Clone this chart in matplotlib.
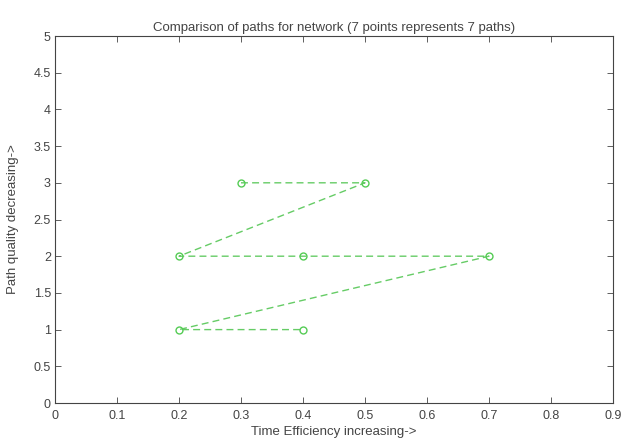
import matplotlib
matplotlib.use("Agg")
import matplotlib.pyplot as plt

x_vals = [0.3, 0.5, 0.2, 0.4, 0.7, 0.2, 0.4]
y_vals = [3, 3, 2, 2, 2, 1, 1]
x_ticks = [0, 0.1, 0.2, 0.3, 0.4, 0.5, 0.6, 0.7, 0.8, 0.9]
x_labels = ["0", "0.1", "0.2", "0.3", "0.4", "0.5", "0.6", "0.7", "0.8", "0.9"]
y_ticks = [0, 0.5, 1, 1.5, 2, 2.5, 3, 3.5, 4, 4.5, 5]
y_labels = ["0", "0.5", "1", "1.5", "2", "2.5", "3", "3.5", "4", "4.5", "5"]

plt.rcParams['font.family'] = ['Liberation Sans', 'DejaVu Sans']
fig = plt.figure(figsize=(6.22, 4.41), dpi=100)
ax = fig.add_axes([55/622, 38/441, (613-55)/622, (403-36)/441])
ax.plot(x_vals, y_vals, linestyle=(0, (5, 3)), color='#66cc66', linewidth=1.0,
        marker='o', markersize=5, markerfacecolor='none', markeredgecolor='#55cc55', markeredgewidth=1.0)
ax.set_xlim(0, 0.9)
ax.set_ylim(0, 5)
ax.set_xticks(x_ticks)
ax.set_xticklabels(x_labels)
ax.set_yticks(y_ticks)
ax.set_yticklabels(y_labels)
ax.tick_params(direction='in', top=True, right=True, labelsize=9, colors='#444444', length=4, width=0.6)
ax.tick_params(axis='x', pad=5)
ax.tick_params(axis='y', pad=3)
for s in ax.spines.values():
    s.set_linewidth(0.8)
    s.set_color('#444444')
ax.set_xlabel("Time Efficiency increasing->", fontsize=9.5, color='#444444', va='center')
ax.xaxis.set_label_coords(0.5, -0.079)
ax.set_ylabel("Path quality decreasing->", fontsize=9.5, color='#444444', va='center')
ax.yaxis.set_label_coords(-0.075, 0.5)
t = ax.set_title("Comparison of paths for network (7 points represents 7 paths)", fontsize=9.5, color='#444444', va='center')
t.set_position((0.5, 1.041))
fig.savefig("out.png", dpi=100)
